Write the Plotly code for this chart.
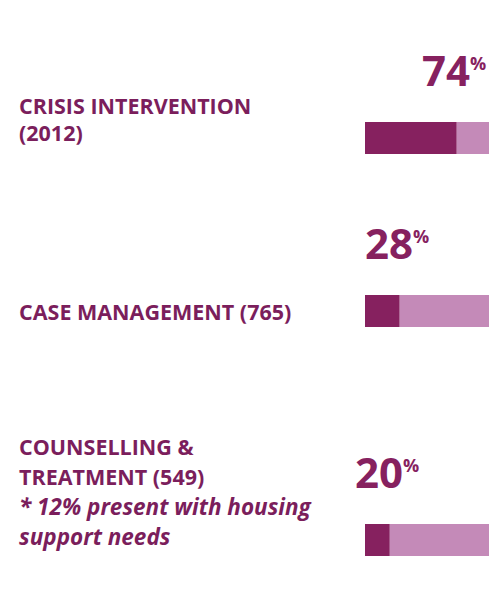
import plotly.graph_objects as go
from plotly.subplots import make_subplots

# Service breakdown
services = ["Crisis Intervention", "Case Management", "Counselling & Treatment"]
percent = [74, 28, 20]
label_lines = [
    ["CRISIS INTERVENTION", "(2012)"],
    ["CASE MANAGEMENT (765)"],
    ["COUNSELLING &", "TREATMENT (549)", "* 12% present with housing", "support needs"],
]
italic_lines = [[False, False], [False], [False, False, True, True]]

W, H = 494, 613
DARK = "#86215f"
LIGHT = "#c48ab8"
TEXT = "#7b1e5c"
FONT = "Open Sans"

# layout geometry in pixels
bar_left, bar_right = 365, 489
bar_tops = [122, 295, 524]
bar_h = 32
line_mid = [[105, 133], [311], [446, 476, 506, 536]]
label_x = 18

fig = make_subplots(rows=3, cols=1)

annotations = []
for i, (name, p) in enumerate(zip(services, percent)):
    r = i + 1
    fig.add_trace(go.Bar(y=[name], x=[p], orientation="h", marker_color=DARK,
                         marker_line_width=0, width=1, showlegend=False,
                         hoverinfo="skip"), row=r, col=1)
    fig.add_trace(go.Bar(y=[name], x=[100 - p], base=[p], orientation="h",
                         marker_color=LIGHT, marker_line_width=0, width=1,
                         showlegend=False, hoverinfo="skip"), row=r, col=1)
    top = bar_tops[i]
    dom = [1 - (top + bar_h) / H, 1 - top / H]
    sfx = "" if r == 1 else str(r)
    fig.update_layout(**{
        f"xaxis{sfx}": dict(domain=[bar_left / W, bar_right / W], range=[0, 100],
                            visible=False, fixedrange=True),
        f"yaxis{sfx}": dict(domain=dom, range=[-0.5, 0.5], visible=False,
                            fixedrange=True),
    })
    # value label centred over the end of the dark segment
    annotations.append(dict(
        xref=f"x{sfx}", yref="paper", x=p, y=dom[1], xanchor="center",
        yanchor="bottom", yshift=22, xshift=-3, showarrow=False,
        text=(f"{p}<span style='font-size:18px;baseline-shift:16px'>"
              f"%</span>"),
        font=dict(family=FONT, size=42, color=DARK, weight="bold"),
    ))
    # service label lines on the left
    for line, ym, it in zip(label_lines[i], line_mid[i], italic_lines[i]):
        annotations.append(dict(
            xref="paper", yref="paper", x=label_x / W, y=1 - ym / H,
            xanchor="left", yanchor="middle", showarrow=False, text=line,
            borderpad=0,
            font=dict(family=FONT, size=22.5 if it else 21.5, color=TEXT,
                      weight="bold", style="italic" if it else "normal"),
        ))

fig.update_layout(
    width=W, height=H, margin=dict(l=0, r=0, t=0, b=0),
    paper_bgcolor="white", plot_bgcolor="white", barmode="overlay",
    annotations=annotations,
)

fig.write_html("out.html")
